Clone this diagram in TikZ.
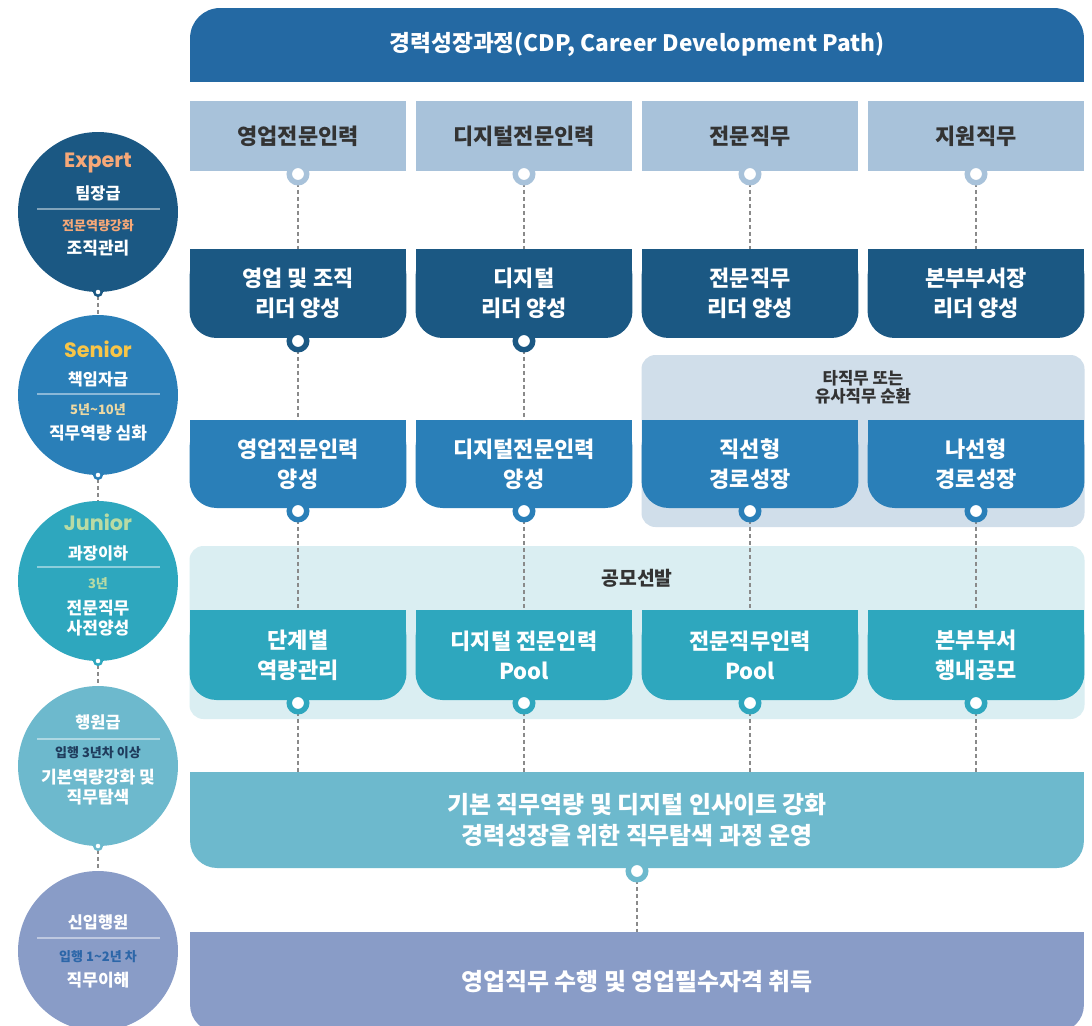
\documentclass[tikz,border=0pt]{standalone}
\usepackage{fontspec}
\setmainfont{Noto Sans CJK KR}
\newfontfamily\popfont{Poppins}
\usetikzlibrary{backgrounds}
\definecolor{headblue}{HTML}{2469A3}
\definecolor{catblue}{HTML}{A8C2DA}
\definecolor{expblue}{HTML}{1B5883}
\definecolor{senblue}{HTML}{2A7FB8}
\definecolor{senbg}{HTML}{D0DEEA}
\definecolor{junteal}{HTML}{2EA7BE}
\definecolor{junbg}{HTML}{DAEEF2}
\definecolor{staffteal}{HTML}{6DB9CD}
\definecolor{newbie}{HTML}{899CC7}
\definecolor{linkgray}{HTML}{8A8A8A}
\definecolor{darktext}{HTML}{333333}
\definecolor{exporange}{HTML}{F6A878}
\definecolor{senyellow}{HTML}{F7C548}
\definecolor{senpale}{HTML}{EDD9A3}
\definecolor{jungreen}{HTML}{B9DBA4}
\definecolor{staffnavy}{HTML}{1F3B5C}
\definecolor{newbieblue}{HTML}{2C66A8}
\newcommand{\roundbot}[2]{\fill[#2,rounded corners=0.54cm] (#1.north west) rectangle (#1.south east);\fill[#2] (#1.north west) rectangle (#1.east);}
\newcommand{\roundtop}[2]{\fill[#2,rounded corners=0.6cm] (#1.north west) rectangle (#1.south east);\fill[#2] (#1.west) rectangle (#1.south east);}

\begin{document}
\begin{tikzpicture}[x=0.02cm,y=-0.02cm,every node/.style={inner sep=0pt,outer sep=0pt},cellbox/.style={rectangle,minimum width=4.34cm,align=center,text=white,font=\bfseries\fontsize{12.5}{17}\selectfont},catcell/.style={cellbox,minimum height=1.4cm,text=darktext},leadcell/.style={cellbox,minimum height=1.78cm},deepcell/.style={cellbox,minimum height=1.76cm},poolcell/.style={cellbox,minimum height=1.8cm},widecell/.style={cellbox,minimum width=17.88cm,font=\bfseries\fontsize{13.6}{18}\selectfont},cellring/.style={circle,draw=#1,fill=white,line width=3.1pt,minimum size=0.35cm,yshift=-1.7pt},lvdot/.style={circle,draw=#1,fill=white,line width=1.4pt,minimum size=0.15cm},lvcircle/.style={circle,fill=#1,minimum size=3.2cm},lvtag/.style={font=\popfont\bfseries\fontsize{11.8}{12}\selectfont},lvrank/.style={text=white,font=\bfseries\fontsize{9.3}{10}\selectfont},lvyear/.style={font=\bfseries\fontsize{7.4}{8}\selectfont},lvgoal/.style={text=white,align=center,font=\bfseries\fontsize{9.7}{11.5}\selectfont},grouptitle/.style={text=darktext,align=center,font=\bfseries\fontsize{9.5}{10.4}\selectfont},link/.style={draw=linkgray,line width=0.7pt,dash pattern=on 2.3pt off 1.7pt},sepline/.style={draw=white,opacity=0.45,line width=0.6pt}]
\useasboundingbox (0,0) rectangle (1092,1025);
\clip (0,0) rectangle (1092,1025);
\node[lvcircle=expblue] (lvexp) at (98,212) {};
\node[lvtag,text=exporange] (expt) at (98,163) {Expert};
\node[lvrank] (expr) at (98,193) {팀장급};
\draw[sepline] (37,209) -- (160,209);
\node[lvyear,text=exporange] (expy) at (98,226) {전문역량강화};
\node[lvgoal] (expg) at (98,248) {조직관리};
\node[lvdot=expblue] (expd) at (lvexp.south) {};
\node[lvcircle=senblue] (lvsen) at (98,395) {};
\node[lvtag,text=senyellow] (sent) at (98,349) {Senior};
\node[lvrank] (senr) at (98,379) {책임자급};
\draw[sepline] (37,394) -- (160,394);
\node[lvyear,text=senpale] (seny) at (98,410) {5년\textasciitilde10년};
\node[lvgoal] (seng) at (98,433) {직무역량 심화};
\node[lvdot=senblue] (send) at (lvsen.south) {};
\node[lvcircle=junteal] (lvjun) at (98,581) {};
\node[lvtag,text=jungreen] (junt) at (98,522) {Junior};
\node[lvrank] (junr) at (98,553) {과장이하};
\draw[sepline] (37,567) -- (160,567);
\node[lvyear,text=jungreen] (juny) at (98,584) {3년};
\node[lvgoal] (jung) at (98,618) {전문직무\\사전양성};
\node[lvdot=junteal] (jund) at (lvjun.south) {};
\node[lvcircle=staffteal] (lvsta) at (98,766) {};
\node[lvrank] (star) at (98,722) {행원급};
\draw[sepline] (37,739) -- (160,739);
\node[lvyear,text=staffnavy] (stay) at (98,753) {입행 3년차 이상};
\node[lvgoal] (stag) at (98,787.5) {기본역량강화 및\\직무탐색};
\node[lvdot=staffteal] (stad) at (lvsta.south) {};
\node[lvcircle=newbie] (lvnew) at (98,951) {};
\node[lvrank] (newr) at (98,922) {신입행원};
\draw[sepline] (37,938) -- (160,938);
\node[lvyear,text=newbieblue] (newy) at (98,957) {입행 1\textasciitilde2년 차};
\node[lvgoal] (newg) at (98,980) {직무이해};
\node[widecell,minimum height=1.48cm,font=\bfseries\fontsize{12.9}{17}\selectfont] (head) at (637,45) {경력성장과정(CDP, Career Development Path)};
\node[catcell] (c1) at (298,136) {영업전문인력};
\node[catcell] (c2) at (524,136) {디지털전문인력};
\node[catcell] (c3) at (750,136) {전문직무};
\node[catcell] (c4) at (976,136) {지원직무};
\foreach \k in {1,2,3,4} \node[cellring=catblue] (cd\k) at (c\k.south) {};
\node[leadcell] (l1) at (298,293.5) {영업 및 조직\\리더 양성};
\node[leadcell] (l2) at (524,293.5) {디지털\\리더 양성};
\node[leadcell] (l3) at (750,293.5) {전문직무\\리더 양성};
\node[leadcell] (l4) at (976,293.5) {본부부서장\\리더 양성};
\foreach \k in {1,2} \node[cellring=expblue] (ld\k) at (l\k.south) {};
\node[grouptitle] (rot) at (863,387) {타직무 또는\\유사직무 순환};
\node[deepcell] (d1) at (298,464) {영업전문인력\\양성};
\node[deepcell] (d2) at (524,464) {디지털전문인력\\양성};
\node[deepcell] (d3) at (750,464) {직선형\\경로성장};
\node[deepcell] (d4) at (976,464) {나선형\\경로성장};
\foreach \k in {1,2,3,4} \node[cellring=senblue] (dd\k) at (d\k.south) {};
\node[grouptitle,font=\bfseries\fontsize{11}{12}\selectfont] (pick) at (637,578) {공모선발};
\node[poolcell] (p1) at (298,655) {단계별\\역량관리};
\node[poolcell] (p2) at (524,655) {디지털 전문인력\\Pool};
\node[poolcell] (p3) at (750,655) {전문직무인력\\Pool};
\node[poolcell] (p4) at (976,655) {본부부서\\행내공모};
\foreach \k in {1,2,3,4} \node[cellring=junteal] (pd\k) at (p\k.south) {};
\node[widecell,minimum height=1.92cm] (base) at (637,820) {기본 직무역량 및 디지털 인사이트 강화\\경력성장을 위한 직무탐색 과정 운영};
\node[cellring=staffteal] (bd) at (base.south) {};
\node[widecell,minimum height=2cm,font=\bfseries\fontsize{13.6}{17}\selectfont] (entry) at (637,982) {영업직무 수행 및 영업필수자격 취득};
\begin{scope}[on background layer]
\fill[white] (0,0) rectangle (1092,1025);
\fill[senbg,rounded corners=0.28cm] (641.5,355) rectangle (1084.5,527);
\fill[junbg,rounded corners=0.28cm] (189.5,546) rectangle (1084.5,719);
\roundtop{head}{headblue}
\foreach \k in {1,2,3,4} \fill[catblue] (c\k.north west) rectangle (c\k.south east);
\foreach \k in {1,2,3,4} {\roundbot{l\k}{expblue}}
\foreach \k in {1,2,3,4} {\roundbot{d\k}{senblue}}
\foreach \k in {1,2,3,4} {\roundbot{p\k}{junteal}}
\roundbot{base}{staffteal}
\roundbot{entry}{newbie}
\foreach \k in {1,2,3,4} \draw[link] (cd\k) -- (l\k);
\foreach \k in {1,2} \draw[link] (ld\k) -- (d\k);
\foreach \k in {1,2,3,4} \draw[link] (dd\k) -- (p\k);
\foreach \k in {1,2,3,4} \draw[link] (pd\k) -- (pd\k |- base.north);
\draw[link] (bd) -- (entry);
\draw[link] (expd) -- (lvsen);
\draw[link] (send) -- (lvjun);
\draw[link] (jund) -- (lvsta);
\draw[link] (stad) -- (lvnew);
\end{scope}
\end{tikzpicture}
\end{document}
